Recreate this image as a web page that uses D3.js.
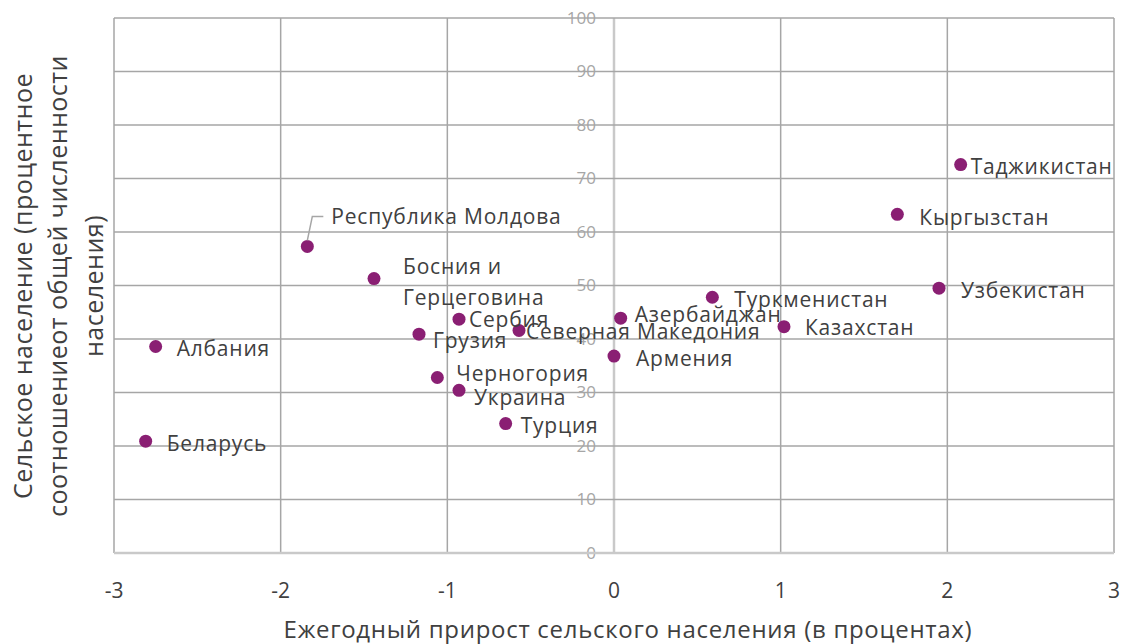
<!DOCTYPE html>
<html>
<head>
<meta charset="utf-8">
<script src="https://cdn.jsdelivr.net/npm/d3@7"></script>
<style>
  body { margin: 0; background: #fff; }
  text { font-family: "Open Sans", sans-serif; }
</style>
</head>
<body>
<div id="chart"></div>
<script>
// ***** data *****
const countries = ["Таджикистан", "Кыргызстан", "Узбекистан", "Туркменистан", "Казахстан",
  "Азербайджан", "Армения", "Северная Македония", "Сербия", "Грузия", "Черногория",
  "Украина", "Турция", "Босния и Герцеговина", "Республика Молдова", "Албания", "Беларусь"]
const growth = [2.08, 1.70, 1.95, 0.59, 1.02, 0.04, 0.0, -0.57, -0.93, -1.17, -1.06,
  -0.93, -0.65, -1.44, -1.84, -2.75, -2.81]
const rural = [72.6, 63.3, 49.5, 47.8, 42.3, 43.9, 36.8, 41.6, 43.7, 40.9, 32.8,
  30.4, 24.2, 51.3, 57.3, 38.6, 20.9]
const xTicks = [-3, -2, -1, 0, 1, 2, 3]
const yTicks = [0, 10, 20, 30, 40, 50, 60, 70, 80, 90, 100]

// label placement (pixel offsets from the point), like Excel's manual label positions
const labelPos = {
  "Таджикистан": [10, 2],
  "Кыргызстан": [22, 3],
  "Узбекистан": [22, 2],
  "Туркменистан": [22, 2],
  "Казахстан": [21, 1],
  "Азербайджан": [14, -3],
  "Армения": [22, 3],
  "Северная Македония": [7, 1],
  "Сербия": [10, 0],
  "Грузия": [14, 6],
  "Черногория": [19, -4],
  "Украина": [15, 7],
  "Турция": [15, 2],
  "Босния и Герцеговина": [29, -12],
  "Республика Молдова": [24, -30],
  "Албания": [21, 2],
  "Беларусь": [21, 2]
}

const data = countries.map((c, i) => ({ name: c, x: growth[i], y: rural[i] }))

const margin = { top: 18, right: 8, bottom: 91, left: 114 }
const width = 1122 - margin.left - margin.right
const height = 644 - margin.top - margin.bottom

const svg = d3.select("#chart")
  .append("svg")
  .attr("width", 1122)
  .attr("height", 644)

const g = svg.append("g")
  .attr("transform", "translate(" + margin.left + "," + margin.top + ")")

const x = d3.scaleLinear().domain([-3, 3]).range([0, width])
const y = d3.scaleLinear().domain([0, 100]).range([height, 0])

// gridlines
g.selectAll(".vgrid")
  .data(xTicks.filter(d => d !== 0))
  .enter()
  .append("line")
  .attr("x1", d => x(d)).attr("x2", d => x(d))
  .attr("y1", 0).attr("y2", height)
  .attr("stroke", "#a6a6a6")
  .attr("stroke-width", 1.5)

// y-axis at x = 0
g.append("line")
  .attr("x1", x(0)).attr("x2", x(0))
  .attr("y1", 0).attr("y2", height)
  .attr("stroke", "#c9c9c9")
  .attr("stroke-width", 2.5)

// y tick labels (drawn under horizontal gridlines)
g.selectAll(".ytick")
  .data(yTicks)
  .enter()
  .append("text")
  .attr("x", x(0) - 18)
  .attr("y", d => y(d))
  .attr("dy", "0.35em")
  .attr("text-anchor", "end")
  .attr("fill", "#a6a6a6")
  .style("font-size", "17px")
  .text(d => d)

g.selectAll(".hgrid")
  .data(yTicks.filter(d => d !== 0))
  .enter()
  .append("line")
  .attr("x1", 0).attr("x2", width)
  .attr("y1", d => y(d)).attr("y2", d => y(d))
  .attr("stroke", "#a6a6a6")
  .attr("stroke-width", 1.5)

// x-axis at y = 0
g.append("line")
  .attr("x1", 0).attr("x2", width)
  .attr("y1", y(0)).attr("y2", y(0))
  .attr("stroke", "#c9c9c9")
  .attr("stroke-width", 2.5)

// x tick labels
g.selectAll(".xtick")
  .data(xTicks)
  .enter()
  .append("text")
  .attr("x", d => x(d))
  .attr("y", height + 45)
  .attr("text-anchor", "middle")
  .attr("fill", "#404040")
  .style("font-size", "21px")
  .text(d => d)

// points
g.selectAll(".dot")
  .data(data)
  .enter()
  .append("circle")
  .attr("cx", d => x(d.x))
  .attr("cy", d => y(d.y))
  .attr("r", 6.5)
  .attr("fill", "#8a1f73")

// leader line for Moldova
const md = data.find(d => d.name === "Республика Молдова")
g.append("polyline")
  .attr("points", [
    [x(md.x), y(md.y) - 6],
    [x(md.x) + 5, y(md.y) - 30],
    [x(md.x) + 16, y(md.y) - 30]
  ].map(p => p.join(",")).join(" "))
  .attr("fill", "none")
  .attr("stroke", "#a6a6a6")
  .attr("stroke-width", 1.5)

// data labels
const labels = g.selectAll(".label")
  .data(data)
  .enter()
  .append("text")
  .attr("x", d => x(d.x) + labelPos[d.name][0])
  .attr("y", d => y(d.y) + labelPos[d.name][1])
  .attr("dy", "0.35em")
  .attr("fill", "#404040")
  .style("font-size", "21px")
  .style("letter-spacing", "0.8px")

labels.each(function(d) {
  const t = d3.select(this)
  if (d.name === "Босния и Герцеговина") {
    t.append("tspan").attr("x", x(d.x) + labelPos[d.name][0]).text("Босния и")
    t.append("tspan").attr("x", x(d.x) + labelPos[d.name][0]).attr("dy", 31).text("Герцеговина")
  } else {
    t.text(d.name)
  }
})

// x-axis title
svg.append("text")
  .attr("x", 628)
  .attr("y", 638)
  .attr("text-anchor", "middle")
  .attr("fill", "#404040")
  .style("font-size", "24px")
  .style("letter-spacing", "0.7px")
  .text("Ежегодный прирост сельского населения (в процентах)")

// y-axis title
const yTitle = svg.append("text")
  .attr("transform", "translate(23,286) rotate(-90)")
  .attr("text-anchor", "middle")
  .attr("fill", "#404040")
  .style("font-size", "25px")
  .style("letter-spacing", "0.5px")

const yLines = ["Сельское население (процентное", "соотношениеот общей численности", "населения)"]
yLines.forEach((l, i) => {
  yTitle.append("tspan")
    .attr("x", 0)
    .attr("y", i * 35.5)
    .attr("dy", "0.35em")
    .text(l)
})
</script>
</body>
</html>
